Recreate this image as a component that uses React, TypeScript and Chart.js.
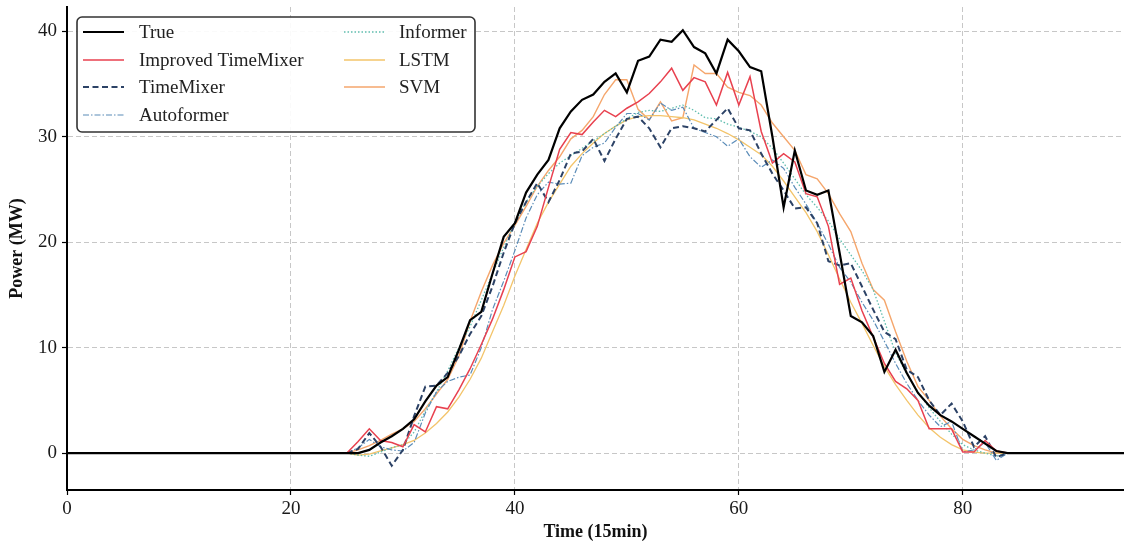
import React, { useEffect, useRef } from "react";
import { Chart, registerables } from "chart.js";

Chart.register(...registerables);

// time index 0..95 (15-min steps)
const timeSteps: number[] = Array.from({ length: 96 }, (_, i) => i);

const trueValues: number[] = [
  0, 0, 0, 0, 0, 0, 0, 0, 0, 0, 0, 0, 0, 0, 0, 0, 0, 0, 0, 0,
  0, 0, 0, 0, 0, 0, 0, 0.3, 1.0, 1.6, 2.3, 3.2, 4.9, 6.4, 7.2, 9.8, 12.6, 13.4, 17.0, 20.5,
  21.8, 24.7, 26.4, 27.8, 30.8, 32.4, 33.5, 34.0, 35.2, 36.0, 34.2, 37.2, 37.6, 39.2, 39.0, 40.1, 38.5, 37.9, 36.0, 39.2,
  38.1, 36.6, 36.2, 30.0, 23.3, 28.7, 24.9, 24.5, 24.9, 19.0, 13.0, 12.4, 11.1, 7.7, 9.8, 7.6, 5.7, 4.5, 3.6, 3.0,
  2.3, 1.6, 0.9, 0.2, 0, 0, 0, 0, 0, 0, 0, 0, 0, 0, 0, 0,
];

// prediction series cover time steps 25..84
const predStart = 25;

const improvedTimeMixer: number[] = [
  0, 1.1, 2.3, 1.2, 1.0, 0.6, 2.7, 2.0, 4.4, 4.2, 6.0, 8.0, 10.3, 12.7, 15.5,
  18.6, 19.1, 21.5, 25.2, 28.8, 30.4, 30.2, 31.4, 32.5, 31.9, 32.7, 33.3, 34.1, 35.2, 36.5,
  34.4, 35.6, 35.2, 33.0, 36.1, 33.0, 35.7, 30.5, 27.5, 28.4, 27.6, 24.6, 24.3, 21.5, 16.0,
  16.6, 13.5, 11.0, 8.5, 6.8, 6.1, 5.0, 2.3, 2.3, 2.3, 0.1, 0.1, 1.2, 0.2, 0,
];

const timeMixer: number[] = [
  0, 0.4, 1.9, 0.6, -1.2, 0.3, 3.5, 6.3, 6.4, 7.6, 9.2, 11.3, 13.0, 15.8, 19.0,
  21.8, 23.8, 25.6, 23.8, 25.9, 28.4, 28.6, 29.8, 27.7, 29.8, 31.7, 31.9, 30.8, 29.0, 30.8,
  31.0, 30.8, 30.5, 31.6, 32.7, 30.8, 30.6, 28.4, 26.5, 24.9, 23.2, 23.3, 21.8, 18.2, 17.8,
  18.0, 15.8, 13.6, 11.5, 10.8, 7.9, 7.2, 5.0, 3.6, 4.7, 3.0, 0.6, 1.6, -0.4, 0,
];

const autoformer: number[] = [
  0, 0.5, 1.3, 0.6, 0.3, 0.2, 1.0, 3.8, 5.8, 6.8, 7.2, 7.4, 10.0, 13.6, 16.3,
  19.2, 22.3, 24.5, 25.7, 25.5, 25.6, 28.2, 29.0, 29.4, 30.9, 32.2, 32.2, 31.6, 33.2, 32.5,
  32.8, 30.8, 30.4, 30.0, 29.1, 29.8, 28.1, 27.1, 27.8, 27.0, 25.2, 23.6, 21.8, 19.8, 17.6,
  16.2, 14.3, 12.6, 10.6, 8.5, 6.6, 5.0, 3.6, 2.5, 3.0, 0.1, 0.3, 1.0, -0.7, 0,
];

const informer: number[] = [
  0, -0.2, -0.3, 0.1, 0.5, 0.8, 2.0, 4.0, 5.8, 7.8, 10.0, 12.0, 14.5, 17.0, 19.5,
  21.8, 23.8, 25.3, 26.5, 27.5, 28.2, 28.9, 29.6, 30.3, 31.0, 31.7, 32.3, 32.5, 32.4, 32.7,
  33.0, 32.5, 31.8, 31.7, 31.2, 30.9, 30.5, 30.0, 28.9, 27.5, 26.0, 24.5, 23.3, 22.0, 20.3,
  18.8, 17.3, 15.5, 12.5, 9.5, 7.5, 5.8, 4.3, 3.0, 1.8, 0.8, 0.3, 0.0, -0.3, 0,
];

const lstm: number[] = [
  0, -0.2, -0.1, 0.2, 0.5, 0.8, 1.2, 1.9, 2.8, 3.9, 5.3, 7.0, 9.0, 11.5, 14.0,
  16.8, 19.3, 21.8, 23.8, 25.5, 27.2, 28.4, 29.4, 30.3, 31.0, 31.6, 31.9, 32.0, 32.0, 31.9,
  31.8, 31.6, 31.2, 30.8, 30.3, 29.7, 29.0, 28.3, 27.2, 25.8, 24.3, 22.8, 21.0, 18.8, 16.5,
  14.3, 12.3, 10.2, 8.2, 6.5, 5.0, 3.6, 2.4, 1.5, 0.8, 0.3, 0.1, 0, 0, 0,
];

const svm: number[] = [
  0, 0.3, 0.7, 1.2, 1.8, 2.3, 3.0, 4.2, 5.6, 7.0, 9.2, 12.5, 15.3, 17.8, 19.9,
  21.6, 23.4, 25.3, 26.8, 28.1, 29.8, 30.6, 31.9, 34.0, 35.4, 35.4, 32.6, 31.6, 33.3, 31.5,
  31.8, 36.8, 36.0, 36.0, 34.7, 34.2, 33.9, 33.0, 31.3, 30.0, 28.7, 26.4, 26.0, 24.6, 22.7,
  21.0, 18.0, 15.5, 14.5, 11.5, 8.7, 6.3, 5.0, 3.5, 2.3, 1.3, 0.7, 0.3, 0.0, 0,
];

const xTicks: number[] = [0, 20, 40, 60, 80];
const yTicks: number[] = [0, 10, 20, 30, 40];

const seriesNames: string[] = [
  "True",
  "Improved TimeMixer",
  "TimeMixer",
  "Autoformer",
  "Informer",
  "LSTM",
  "SVM",
];

const FONT = "'Liberation Serif', 'Times New Roman', serif";

type Style = { color: string; width: number; dash: number[] };
const styles: Style[] = [
  { color: "#000000", width: 2.2, dash: [] },
  { color: "#e8414f", width: 1.5, dash: [] },
  { color: "#2c4266", width: 2, dash: [6, 3.5] },
  { color: "#5b8cb8", width: 1.2, dash: [6, 2, 1.5, 2] },
  { color: "#5fbdae", width: 1.3, dash: [1.5, 2] },
  { color: "#f3c46a", width: 1.3, dash: [] },
  { color: "#f5a66c", width: 1.4, dash: [] },
];

const toPoints = (vals: number[], start: number) =>
  vals.map((v, i) => ({ x: timeSteps[start + i], y: v }));

const legendPlugin = {
  id: "customLegend",
  afterDraw(chart: any) {
    const ctx: CanvasRenderingContext2D = chart.ctx;
    ctx.save();
    const bx = 77, by = 17, bw = 398, bh = 115;
    ctx.beginPath();
    (ctx as any).roundRect(bx, by, bw, bh, 5);
    ctx.fillStyle = "rgba(255,255,255,0.9)";
    ctx.fill();
    ctx.lineWidth = 1.6;
    ctx.strokeStyle = "#333";
    ctx.stroke();
    const rows = [32, 60, 87, 115];
    ctx.font = `19px ${FONT}`;
    ctx.textBaseline = "middle";
    seriesNames.forEach((name, i) => {
      const col = i < 4 ? 0 : 1;
      const row = i < 4 ? i : i - 4;
      const lx = col === 0 ? 83 : 344;
      const tx = col === 0 ? 139 : 399;
      const y = rows[row];
      const st = styles[i];
      ctx.beginPath();
      ctx.setLineDash(st.dash);
      ctx.strokeStyle = st.color;
      ctx.lineWidth = st.width;
      ctx.moveTo(lx, y);
      ctx.lineTo(lx + 41, y);
      ctx.stroke();
      ctx.setLineDash([]);
      ctx.fillStyle = "#222";
      ctx.fillText(name, tx, y + 1);
    });
    ctx.restore();
  },
};

export default function App() {
  const ref = useRef<HTMLCanvasElement | null>(null);
  useEffect(() => {
    if (!ref.current) return;
    const datasets = [
      { data: toPoints(trueValues, 0) },
      { data: toPoints(improvedTimeMixer, predStart) },
      { data: toPoints(timeMixer, predStart) },
      { data: toPoints(autoformer, predStart) },
      { data: toPoints(informer, predStart) },
      { data: toPoints(lstm, predStart) },
      { data: toPoints(svm, predStart) },
    ].map((d, i) => ({
      label: seriesNames[i],
      data: d.data,
      borderColor: styles[i].color,
      borderWidth: styles[i].width,
      borderDash: styles[i].dash,
      pointRadius: 0,
      tension: 0,
      fill: false,
      order: i,
    }));

    const grid = {
      display: true,
      color: "rgba(185,185,185,0.8)",
      lineWidth: 1,
      drawTicks: true,
      tickLength: 5,
      tickColor: "#000",
      tickWidth: 1.2,
      tickBorderDash: [],
    };
    const border = { display: true, color: "#000", width: 2, dash: [5, 3] };

    const chart = new Chart(ref.current, {
      type: "line",
      data: { datasets },
      plugins: [legendPlugin],
      options: {
        animation: false,
        responsive: false,
        devicePixelRatio: 1,
        layout: { padding: { top: 0, right: 0, left: 0, bottom: 0 } },
        plugins: { legend: { display: false }, tooltip: { enabled: false } },
        scales: {
          x: {
            type: "linear",
            min: 0,
            max: 94.4,
            grid: grid as any,
            border: border as any,
            afterBuildTicks: (s: any) => {
              s.ticks = xTicks.map((v) => ({ value: v }));
            },
            afterFit: (s: any) => {
              s.height = 54;
            },
            ticks: {
              color: "#1a1a1a",
              font: { family: FONT, size: 19 },
              padding: 3,
              maxRotation: 0,
            },
            title: {
              display: true,
              text: "Time (15min)",
              color: "#111",
              font: { family: FONT, size: 18, weight: "bold" },
              padding: { top: 0, bottom: 1 },
            },
          },
          y: {
            type: "linear",
            min: -3.5,
            max: 42.3,
            grid: grid as any,
            border: border as any,
            afterBuildTicks: (s: any) => {
              s.ticks = yTicks.map((v) => ({ value: v }));
            },
            afterFit: (s: any) => {
              s.width = 67;
              s.paddingTop = 7;
              s.paddingBottom = 0;
            },
            ticks: {
              color: "#1a1a1a",
              font: { family: FONT, size: 19 },
              padding: 5,
            },
            title: {
              display: true,
              text: "Power (MW)",
              color: "#111",
              font: { family: FONT, size: 18, weight: "bold" },
              padding: { top: 7, bottom: 0 },
            },
          },
        },
      } as any,
    });
    return () => chart.destroy();
  }, []);

  return (
    <div style={{ position: "absolute", left: 0, top: 0, width: 1124, height: 544, background: "#fff" }}>
      <canvas ref={ref} width={1124} height={544} />
    </div>
  );
}
